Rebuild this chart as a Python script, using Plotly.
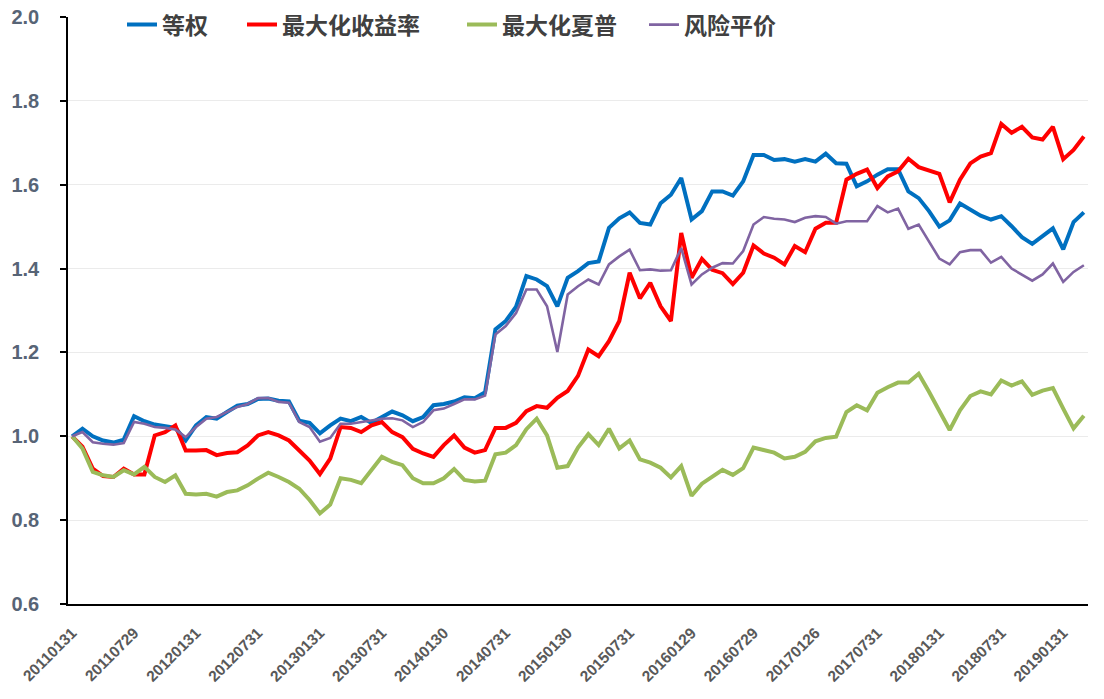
import pandas as pd
import plotly.graph_objects as go

# ---- data ----
tick_labels = ['20110131', '20110729', '20120131', '20120731', '20130131', '20130731',
               '20140130', '20140731', '20150130', '20150731', '20160129', '20160729',
               '20170126', '20170731', '20180131', '20180731', '20190131']

dates = [d.strftime('%Y%m%d') for d in pd.date_range('2011-01-31', periods=99, freq='ME')]
for k, lab in enumerate(tick_labels):
    dates[6 * k] = lab

equal_weight = [
    1.000, 1.018, 1.000, 0.990, 0.985, 0.992, 1.048, 1.036, 1.028, 1.024,
    1.020, 0.990, 1.026, 1.046, 1.042, 1.058, 1.073, 1.077, 1.089, 1.090,
    1.085, 1.083, 1.037, 1.032, 1.007, 1.026, 1.042, 1.036, 1.046, 1.032,
    1.046, 1.059, 1.050, 1.036, 1.046, 1.074, 1.077, 1.083, 1.093, 1.091,
    1.105, 1.255, 1.275, 1.309, 1.382, 1.374, 1.358, 1.310, 1.378, 1.394,
    1.413, 1.417, 1.497, 1.520, 1.534, 1.509, 1.505, 1.556, 1.576, 1.616,
    1.517, 1.537, 1.584, 1.584, 1.574, 1.608, 1.671, 1.671, 1.659, 1.661,
    1.655, 1.661, 1.655, 1.674, 1.651, 1.650, 1.596, 1.608, 1.624, 1.637,
    1.637, 1.584, 1.568, 1.537, 1.500, 1.515, 1.555, 1.541, 1.526, 1.517,
    1.525, 1.501, 1.475, 1.459, 1.479, 1.496, 1.446, 1.511, 1.534]

max_return = [
    1.000, 0.975, 0.923, 0.905, 0.903, 0.923, 0.909, 0.909, 1.002, 1.010,
    1.026, 0.966, 0.966, 0.967, 0.955, 0.960, 0.962, 0.978, 1.002, 1.010,
    1.002, 0.990, 0.966, 0.942, 0.910, 0.947, 1.022, 1.020, 1.010, 1.026,
    1.034, 1.010, 0.998, 0.970, 0.959, 0.951, 0.979, 1.002, 0.973, 0.961,
    0.967, 1.020, 1.020, 1.032, 1.060, 1.072, 1.068, 1.092, 1.108, 1.144,
    1.207, 1.191, 1.227, 1.275, 1.390, 1.329, 1.366, 1.310, 1.275, 1.485,
    1.378, 1.423, 1.397, 1.389, 1.363, 1.390, 1.455, 1.436, 1.426, 1.410,
    1.454, 1.439, 1.495, 1.509, 1.509, 1.612, 1.626, 1.636, 1.592, 1.620,
    1.632, 1.662, 1.642, 1.633, 1.626, 1.558, 1.612, 1.651, 1.667, 1.675,
    1.745, 1.724, 1.738, 1.713, 1.708, 1.738, 1.661, 1.683, 1.715]

max_sharpe = [
    1.000, 0.971, 0.915, 0.907, 0.903, 0.919, 0.909, 0.927, 0.903, 0.891,
    0.907, 0.863, 0.861, 0.863, 0.856, 0.867, 0.871, 0.883, 0.899, 0.913,
    0.903, 0.891, 0.875, 0.848, 0.816, 0.837, 0.900, 0.896, 0.888, 0.919,
    0.951, 0.939, 0.931, 0.900, 0.888, 0.888, 0.900, 0.922, 0.896, 0.892,
    0.894, 0.957, 0.961, 0.979, 1.017, 1.042, 1.002, 0.925, 0.929, 0.973,
    1.005, 0.979, 1.018, 0.971, 0.990, 0.945, 0.937, 0.925, 0.902, 0.929,
    0.858, 0.887, 0.903, 0.920, 0.908, 0.924, 0.973, 0.967, 0.961, 0.947,
    0.951, 0.963, 0.988, 0.996, 0.999, 1.058, 1.074, 1.062, 1.104, 1.117,
    1.128, 1.128, 1.149, 1.106, 1.058, 1.015, 1.062, 1.096, 1.107, 1.100,
    1.133, 1.121, 1.131, 1.099, 1.109, 1.115, 1.066, 1.019, 1.049]

risk_parity = [
    1.000, 1.010, 0.986, 0.982, 0.980, 0.984, 1.034, 1.030, 1.022, 1.020,
    1.016, 0.998, 1.022, 1.042, 1.046, 1.059, 1.070, 1.077, 1.091, 1.091,
    1.082, 1.080, 1.034, 1.022, 0.987, 0.996, 1.030, 1.030, 1.034, 1.038,
    1.042, 1.043, 1.038, 1.022, 1.034, 1.062, 1.066, 1.077, 1.088, 1.088,
    1.097, 1.243, 1.263, 1.294, 1.350, 1.350, 1.310, 1.201, 1.338, 1.358,
    1.374, 1.362, 1.410, 1.429, 1.445, 1.396, 1.398, 1.395, 1.396, 1.449,
    1.362, 1.386, 1.402, 1.413, 1.412, 1.442, 1.505, 1.523, 1.519, 1.517,
    1.511, 1.521, 1.525, 1.523, 1.507, 1.513, 1.513, 1.513, 1.549, 1.534,
    1.543, 1.495, 1.505, 1.466, 1.424, 1.410, 1.439, 1.444, 1.444, 1.414,
    1.428, 1.400, 1.385, 1.371, 1.386, 1.412, 1.368, 1.392, 1.408]

series = [
    ('等权', equal_weight, '#0070C0', 4.0, 'legend'),
    ('最大化收益率', max_return, '#FF0000', 4.0, 'legend2'),
    ('最大化夏普', max_sharpe, '#9BBB59', 4.0, 'legend3'),
    ('风险平价', risk_parity, '#8064A2', 2.6, 'legend4'),
]

fig = go.Figure()
for name, vals, color, width, lg in series:
    fig.add_trace(go.Scatter(
        x=dates, y=vals, mode='lines', name=name,
        line=dict(color=color, width=width),
        legend=lg, hoverinfo='x+y+name'))

M_L, M_R, M_T, M_B = 68, 16, 17, 95
plot_w = 1104 - M_L - M_R

legend_font = dict(family='Noto Sans CJK SC', size=23, color='#404040', weight='bold')
leg_common = dict(orientation='h', xanchor='left', yanchor='middle', y=0.987,
                  bgcolor='rgba(0,0,0,0)', borderwidth=0, font=legend_font,
                  itemwidth=30, xref='paper', yref='paper')
legend_screen_x = [122, 242, 462, 644]
layout_legends = {}
for key, sx in zip(['legend', 'legend2', 'legend3', 'legend4'], legend_screen_x):
    layout_legends[key] = dict(leg_common, x=(sx - M_L) / plot_w)

fig.update_layout(
    width=1104, height=699,
    margin=dict(l=M_L, r=M_R, t=M_T, b=M_B, autoexpand=False),
    paper_bgcolor='white', plot_bgcolor='white',
    showlegend=True,
    **layout_legends,
)

fig.update_xaxes(
    type='category',
    range=[-0.4, len(dates) - 1 + 0.4],
    tickmode='array', tickvals=tick_labels, ticktext=tick_labels,
    tickangle=-45,
    tickfont=dict(family='Liberation Sans', size=15.5, color='#595959', weight='bold'),
    showgrid=False, zeroline=False,
    showline=True, linecolor='#000000', linewidth=1.5,
    ticks='', ticklabelstandoff=12, ticklabeloverflow='allow',
)
fig.update_yaxes(
    range=[0.6, 2.0], dtick=0.2, tick0=0.6, tickformat='.1f',
    tickfont=dict(family='Liberation Sans', size=20, color='#576476', weight='bold'),
    showgrid=True, gridcolor='#EBEBEB', gridwidth=1,
    zeroline=False,
    showline=True, linecolor='#000000', linewidth=1.5,
    ticks='outside', ticklen=6, tickcolor='#000000', tickwidth=1.5,
    ticklabelstandoff=17, ticklabeloverflow='allow',
)

fig.write_html('out.html',
               config={'displayModeBar': False},
               post_script="document.body.style.margin='0';document.body.style.padding='0';")
